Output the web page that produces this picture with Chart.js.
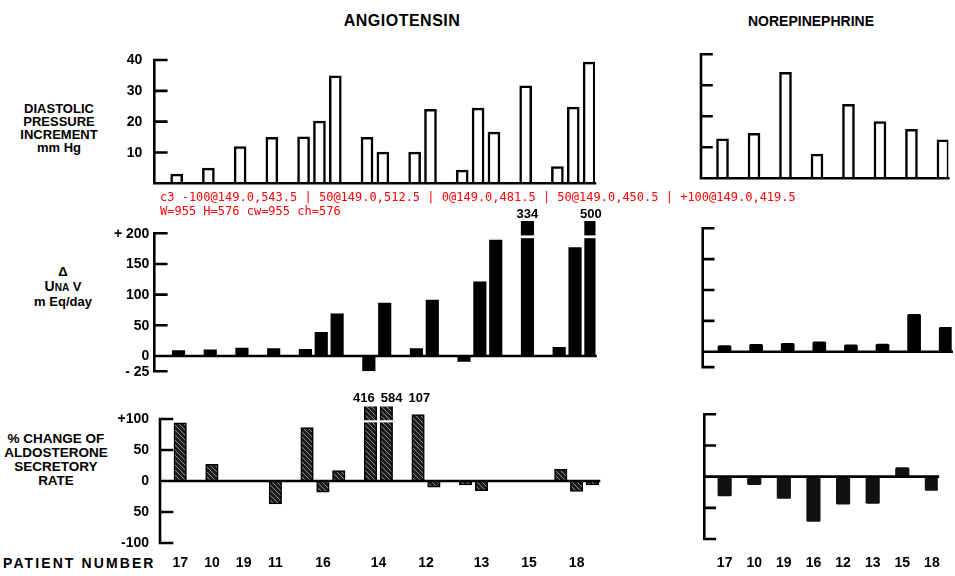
<!DOCTYPE html>
<html><head><meta charset="utf-8">
<script src="https://cdn.jsdelivr.net/npm/chart.js@4"></script>
<style>
html,body{margin:0;padding:0;background:#fff;}
#wrap{position:relative;width:955px;height:576px;overflow:hidden;background:#fff;}
.layer{position:absolute;left:0;top:0;width:955px;height:576px;}
.t{position:absolute;font-family:'Liberation Sans',Arial,sans-serif;font-weight:bold;color:#000;white-space:nowrap;text-align:center;}
#dbg{position:absolute;left:160px;top:190px;font:12px monospace;color:red;white-space:pre;}
</style></head><body>
<div id="wrap">
  <div class="t" style="left:302px;top:11px;width:200px;font-size:16px;line-height:20px;letter-spacing:0.5px;">ANGIOTENSIN</div>
  <div class="t" style="left:711px;top:11px;width:200px;font-size:14px;line-height:20px;">NOREPINEPHRINE</div>
  <div class="t" style="left:0px;top:101.5px;width:118px;font-size:13px;line-height:13.2px;">DIASTOLIC<br>PRESSURE<br>INCREMENT<br>mm Hg</div>
  <div class="t" style="left:3px;top:264.5px;width:120px;font-size:13px;line-height:14.2px;">Δ<br><span style="font-size:14px">U</span><span style="font-size:10px">NA</span> V<br>m Eq/day</div>
  <div class="t" style="left:-4px;top:432px;width:120px;font-size:13.5px;line-height:13.9px;">% CHANGE OF<br>ALDOSTERONE<br>SECRETORY<br>RATE</div>
  <div class="t" style="left:3px;top:554px;font-size:14px;line-height:18px;letter-spacing:2.1px;text-align:left;">PATIENT NUMBER</div>
  <div class="layer"><canvas id="c1"></canvas></div>
  <div class="layer"><canvas id="c2"></canvas></div>
  <div class="layer"><canvas id="c3"></canvas></div>
  <div class="layer"><canvas id="c4"></canvas></div>
  <div class="layer"><canvas id="c5"></canvas></div>
  <div class="layer"><canvas id="c6"></canvas></div>
  <div id="dbg"></div>
</div>
<script>
const patientsAT = ['17','10','19','11','16','14','12','13','15','18'];
const diastolicAT = [[3],[4.9],[11.9],[14.9],[15.1,20.2,34.9],[14.9,10.1],[10.1,24],[4.3,24.4,16.6],[31.6],[5.4,24.7,39.3]];
const unavAT = [[8.6],[9.8],[13],[12],[11,38.6,68.5],[-24.5,86],[12,91],[-9,121,189],[334],[14,176.6,500]];
const aldoAT = [[94],[27],[null],[-37],[86,-18,17],[416,584],[107,-10],[-6.5,-15.6,null],[null],[19,-17,-6.5]];
const patientsNE = ['17','10','19','16','12','13','15','18'];
const diastolicNE = [12.7,14.5,34.2,7.8,23.9,18.3,15.8,12.4];
const unavNE = [10,12,13.5,16,11,12.5,60.6,39.5];
const aldoNE = [-31,-13,-35,-72,-44,-43,14.5,-22];
const diastolicTicks = [10,20,30,40];
const diastolicTickLabels = ['10','20','30','40'];
const unavTicks = [-25,0,50,100,150,200];
const unavTickLabels = ['- 25','0','50','100','150','+ 200'];
const aldoTicks = [-100,-50,0,50,100];
const aldoTickLabels = ['-100','50','0','50','+100'];

const FONT = "'Liberation Sans', Arial, sans-serif";
Chart.defaults.font.family = FONT;
Chart.defaults.font.weight = 'bold';
Chart.defaults.font.size = 14;
Chart.defaults.color = '#000';
const dbgLines = [];

function slotLayout(groups){
  let k = 0; const pos = [], centers = [];
  groups.forEach(g => { const s = k; g.forEach(() => { pos.push(k); k++; }); centers.push(s + (g.length-1)/2); k++; });
  return {pos, centers};
}
const lay = slotLayout(diastolicAT);
function groupedPoints(groups){
  const out = []; let i = 0;
  groups.forEach(g => g.forEach(v => { if (v !== null) out.push({x: lay.pos[i], y: v}); i++; }));
  return out;
}
function flatPoints(arr){ return arr.map((v,i)=>({x:i, y:v})); }
function hatchPattern(){
  const c = document.createElement('canvas'); c.width = 5; c.height = 5;
  const g = c.getContext('2d');
  g.fillStyle = '#1c1c1c'; g.fillRect(0,0,5,5);
  g.strokeStyle = '#9a9a9a'; g.lineWidth = 0.9;
  g.beginPath(); g.moveTo(-1,-1); g.lineTo(6,6); g.moveTo(-1,4); g.lineTo(1,6); g.moveTo(4,-1); g.lineTo(6,1); g.stroke();
  return g.createPattern(c,'repeat');
}

function makeChart(id, cfg){
  const {area, xr, yr, W, xAxisH, data, style, yTicks, yLabels, yPad, xTicks, xLabels, xPad, axis, brk} = cfg;
  const tickVals = yTicks ? yTicks.slice() : null;
  const tickTexts = yLabels ? yLabels.slice() : null;
  const axisPlugin = {
    id: 'axisDraw' + id,
    afterDraw(chart){
      const ctx = chart.ctx, y = chart.scales.y, a = chart.chartArea, x0 = a.left;
      ctx.save(); ctx.strokeStyle = '#000'; ctx.lineWidth = 2.6; ctx.lineCap = 'square';
      ctx.beginPath();
      ctx.moveTo(x0, y.getPixelForValue(axis.lo)); ctx.lineTo(x0, y.getPixelForValue(axis.hi));
      axis.ticks.forEach(t => { const py = y.getPixelForValue(t); ctx.moveTo(x0, py); ctx.lineTo(x0 + axis.len, py); });
      const p0 = y.getPixelForValue(0); ctx.moveTo(x0, p0); ctx.lineTo(a.right, p0);
      ctx.stroke(); ctx.restore();
      if (tickTexts){
        ctx.save(); ctx.fillStyle = '#000'; ctx.font = 'bold 14px ' + FONT;
        ctx.textAlign = 'right'; ctx.textBaseline = 'middle';
        const rec = [];
        for (let i = 0; i < tickVals.length; i++){
          const py = y.getPixelForValue(tickVals[i]) + 0.5;
          ctx.fillText(tickTexts[i], x0 - yPad, py);
          rec.push(tickTexts[i] + '@' + (x0 - yPad).toFixed(1) + ',' + py.toFixed(1));
        }
        ctx.restore();
        if (id === 'c3'){ document.getElementById('dbg').textContent = 'c3 ' + rec.join(' | ') + '\nW=' + chart.width + ' H=' + chart.height + ' cw=' + chart.canvas.width + ' ch=' + chart.canvas.height; }
      }
      if (brk){
        const meta = chart.getDatasetMeta(0); const ds = chart.data.datasets[0].data;
        ctx.save(); ctx.fillStyle = '#000'; ctx.font = 'bold 13px ' + FONT;
        ctx.textAlign = 'center'; ctx.textBaseline = 'middle';
        const items = [];
        meta.data.forEach((el,i) => { const v = ds[i].y; if (v > brk.top){ const s = String(v); items.push({x: el.x, s, w: ctx.measureText(s).width}); } });
        items.sort((p,q) => p.x - q.x);
        for (let pass = 0; pass < 4; pass++){
          for (let i = 1; i < items.length; i++){
            const need = (items[i].w + items[i-1].w)/2 + 6, have = items[i].x - items[i-1].x;
            if (have < need){ const d = need - have; items[i-1].x -= d/2; items[i].x += d/2; }
          }
        }
        items.forEach(it => ctx.fillText(it.s, it.x, a.top - brk.dy));
        ctx.restore();
      }
    },
    afterDatasetsDraw(chart){
      if (!brk) return;
      const ctx = chart.ctx, y = chart.scales.y; const meta = chart.getDatasetMeta(0); const ds = chart.data.datasets[0].data;
      ctx.save(); ctx.fillStyle = '#fff';
      meta.data.forEach((el,i) => {
        if (ds[i].y > brk.cap){
          const y1 = y.getPixelForValue(brk.gap[1]), y2 = y.getPixelForValue(brk.gap[0]);
          ctx.fillRect(el.x - el.width/2 - 1, y1, el.width + 2, y2 - y1);
        }
      });
      ctx.restore();
    }
  };
  return new Chart(document.getElementById(id), {
    type: 'bar',
    data: {datasets: [Object.assign({data: data}, style)]},
    options: {
      animation: false, responsive: true, maintainAspectRatio: false, events: [],
      layout: {padding: {left: area.l - W, right: 955 - area.r, top: area.t, bottom: 576 - area.b - xAxisH}},
      plugins: {legend: {display: false}, tooltip: {enabled: false}},
      scales: {
        x: {type: 'linear', min: xr[0], max: xr[1], offset: false,
            grid: {display: false, drawTicks: false, offset: false}, border: {display: false},
            ticks: {display: !!xTicks, autoSkip: false, maxRotation: 0, minRotation: 0, padding: xPad || 0,
                    font: {size: 14, weight: 'bold'}, color: '#000',
                    callback: (v, i) => xLabels ? xLabels[i] : ''},
            afterBuildTicks: s => { if (xTicks) s.ticks = xTicks.map(v => ({value: v})); },
            afterFit: s => { s.height = xAxisH; }},
        y: {min: yr[0], max: yr[1],
            grid: {display: false, drawTicks: false}, border: {display: false},
            ticks: {display: false},
            afterFit: s => { s.width = W; }}
      }
    },
    plugins: [axisPlugin]
  });
}
const hatch = hatchPattern();
makeChart('c1', {
  area: {l: 154.3, r: 595, t: 60, b: 183.3}, xr: [-1.41, 26.37], yr: [0, 40], W: 60, xAxisH: 0,
  data: groupedPoints(diastolicAT),
  style: {backgroundColor: '#fff', borderColor: '#000', borderWidth: 2.5, barThickness: 12, borderSkipped: 'start'},
  yTicks: diastolicTicks, yLabels: diastolicTickLabels, yPad: 12,
  axis: {lo: 0, hi: 40, ticks: [10,20,30,40], len: 12}
});
makeChart('c2', {
  area: {l: 154.3, r: 595.5, t: 221.0, b: 371.3}, xr: [-1.526, 26.29], yr: [-25, 220], W: 60, xAxisH: 0,
  data: groupedPoints(unavAT),
  style: {backgroundColor: '#000', borderWidth: 0, barThickness: 12.5},
  yTicks: unavTicks, yLabels: unavTickLabels, yPad: 5,
  axis: {lo: -25, hi: 200, ticks: [-25,50,100,150,200], len: 12},
  brk: {top: 200, cap: 220, gap: [192, 196.5], dy: 7}
});
makeChart('c3', {
  area: {l: 160, r: 599, t: 406.6, b: 549.2}, xr: [-1.274, 26.41], yr: [-110, 120], W: 60, xAxisH: 24,
  data: groupedPoints(aldoAT),
  style: {backgroundColor: hatch, borderColor: '#000', borderWidth: 1.5, barThickness: 12.5, borderSkipped: 'start'},
  yTicks: aldoTicks, yLabels: aldoTickLabels, yPad: 11,
  xTicks: lay.centers, xLabels: patientsAT, xPad: 5.4,
  axis: {lo: -100, hi: 100, ticks: [-100,-50,50,100], len: 12},
  brk: {top: 100, cap: 120, gap: [94.5, 98], dy: 8}
});
makeChart('c4', {
  area: {l: 701, r: 948.3, t: 54.3, b: 178.3}, xr: [-0.683, 7.17], yr: [0, 40], W: 0, xAxisH: 0,
  data: flatPoints(diastolicNE),
  style: {backgroundColor: '#fff', borderColor: '#000', borderWidth: 2.5, barThickness: 12, borderSkipped: 'start'},
  axis: {lo: 0, hi: 40, ticks: [10,20,30,40], len: 10.5}
});
makeChart('c5', {
  area: {l: 702.7, r: 951.7, t: 228.3, b: 367.1}, xr: [-0.69, 7.19], yr: [-25, 200], W: 0, xAxisH: 0,
  data: flatPoints(unavNE),
  style: {backgroundColor: '#000', borderWidth: 0, barThickness: 13, borderRadius: 1.5},
  axis: {lo: -25, hi: 200, ticks: [-25,50,100,150,200], len: 10.5}
});
makeChart('c6', {
  area: {l: 704.3, r: 954, t: 414.3, b: 539}, xr: [-0.687, 7.2], yr: [-100, 100], W: 0, xAxisH: 30,
  data: flatPoints(aldoNE),
  style: {backgroundColor: '#111', borderWidth: 0, barThickness: 13.5, borderRadius: 1.5},
  xTicks: patientsNE.map((p,i) => i), xLabels: patientsNE, xPad: 15.3,
  axis: {lo: -100, hi: 100, ticks: [-100,-50,50,100], len: 10.5}
});
</script>
</body></html>
